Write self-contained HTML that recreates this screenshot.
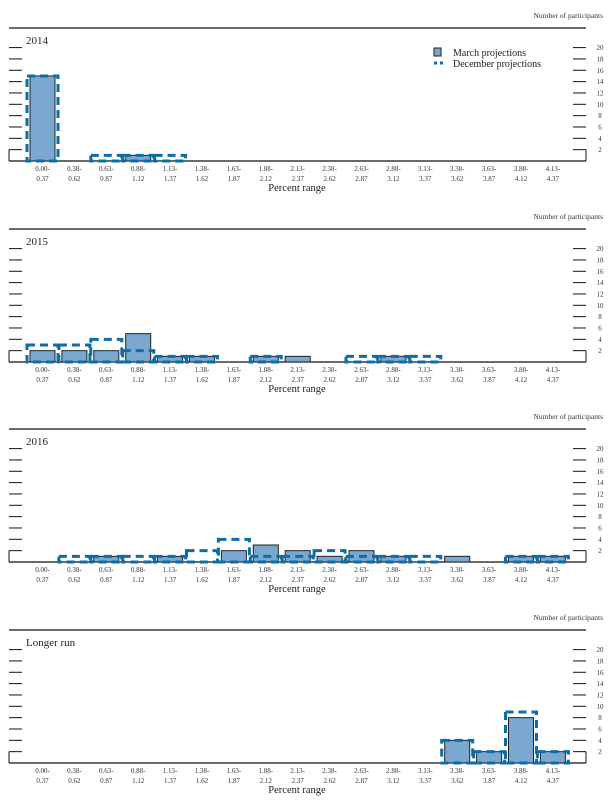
<!DOCTYPE html>
<html><head><meta charset="utf-8"><style>
body{margin:0;background:#fff;}
svg{display:block;font-family:"Liberation Serif",serif;}
</style></head><body>
<svg id="chart" width="616" height="802" viewBox="0 0 616 802"></svg>
<script>
const categories=["0.00-|0.37","0.38-|0.62","0.63-|0.87","0.88-|1.12","1.13-|1.37","1.38-|1.62","1.63-|1.87","1.88-|2.12","2.13-|2.37","2.38-|2.62","2.63-|2.87","2.88-|3.12","3.13-|3.37","3.38-|3.62","3.63-|3.87","3.88-|4.12","4.13-|4.37"];
const panelTitles=["2014","2015","2016","Longer run"];
const yTicks=[2,4,6,8,10,12,14,16,18,20];
const march2014=[15,0,0,1,0,0,0,0,0,0,0,0,0,0,0,0,0];
const dec2014=[15,0,1,1,1,0,0,0,0,0,0,0,0,0,0,0,0];
const march2015=[2,2,2,5,1,1,0,1,1,0,0,1,0,0,0,0,0];
const dec2015=[3,3,4,2,1,1,0,1,0,0,1,1,1,0,0,0,0];
const march2016=[0,0,1,0,1,0,2,3,2,1,2,1,0,1,0,1,1];
const dec2016=[0,1,1,1,1,2,4,1,1,2,1,1,1,0,0,1,1];
const marchLR=[0,0,0,0,0,0,0,0,0,0,0,0,0,4,2,8,2];
const decLR=[0,0,0,0,0,0,0,0,0,0,0,0,0,4,2,9,2];
const marchSeries=[march2014,march2015,march2016,marchLR];
const decSeries=[dec2014,dec2015,dec2016,decLR];

const NS="http://www.w3.org/2000/svg";
const svg=document.getElementById('chart');
function mk(tag,attrs,parent,text){const e=document.createElementNS(NS,tag);for(const k in attrs)e.setAttribute(k,attrs[k]);if(text!==undefined)e.textContent=text;(parent||svg).appendChild(e);return e;}
const tops=[28,229,429,630];
const X0=42.5,STEP=31.9,UNIT=5.67;
function xc(i){return X0+i*STEP;}
tops.forEach((t,p)=>{
  const base=t+133;
  function y(v){return base-v*UNIT;}
  const g=mk('g',{});
  
  
  const yl=mk('text',{x:603,y:t-10,'font-size':7.5,'text-anchor':'end',fill:'#333'},g,'Number of participants');
  
  
  mk('line',{x1:9,x2:586,y1:t,y2:t,stroke:'#111','stroke-width':1.2},g);
  const tt=mk('text',{x:26,y:t+16,'font-size':11,fill:'#222'},g,panelTitles[p]);
  
  
  yTicks.forEach(v=>{
    mk('line',{x1:9,x2:22,y1:y(v),y2:y(v),stroke:'#111','stroke-width':1},g);
    mk('line',{x1:573,x2:586,y1:y(v),y2:y(v),stroke:'#111','stroke-width':1},g);
    const tl=mk('text',{x:600,y:y(v)+2.5,'font-size':7,'text-anchor':'middle',fill:'#333'},g,String(v));
    
    
  });
  mk('line',{x1:9,x2:9,y1:y(2),y2:base,stroke:'#111'},g);
  mk('line',{x1:586,x2:586,y1:y(2),y2:base,stroke:'#111'},g);
  mk('line',{x1:9,x2:586,y1:base,y2:base,stroke:'#111','stroke-width':1.2},g);
  categories.forEach((c,i)=>{
    const parts=c.split('|');
    const l=mk('text',{x:xc(i),y:base+10,'font-size':7,'text-anchor':'middle',fill:'#333'},g);
    
    
    mk('tspan',{x:xc(i),dy:0},l,parts[0]);
    mk('tspan',{x:xc(i),dy:10},l,parts[1]);
    const m=marchSeries[p][i];
    if(m>0){
      const r=mk('rect',{x:xc(i)-12.5,y:y(m),width:25,height:m*UNIT,fill:'#7aa8d0',stroke:'#222','stroke-width':1},g);
      
      
    }
  });
  decSeries[p].forEach((d,i)=>{
    if(d>0){
      const r=mk('rect',{x:xc(i)-15.5,y:y(d),width:31,height:d*UNIT,fill:'none',stroke:'#0b6ea8','stroke-width':3,'stroke-dasharray':'8,5'},g);
      
      
    }
  });
  const xt=mk('text',{x:297,y:base+30,'font-size':10.5,'text-anchor':'middle',fill:'#222'},g,'Percent range');
  
  
});
const lg=mk('g',{});


mk('rect',{x:434,y:48,width:7,height:8,fill:'#7aa8d0',stroke:'#222'},lg);
mk('text',{x:453,y:56,'font-size':10,fill:'#222'},lg,'March projections');
mk('line',{x1:434,x2:443,y1:63,y2:63,stroke:'#0b6ea8','stroke-width':3,'stroke-dasharray':'3,3'},lg);
mk('text',{x:453,y:67,'font-size':10,fill:'#222'},lg,'December projections');
</script>
</body></html>
